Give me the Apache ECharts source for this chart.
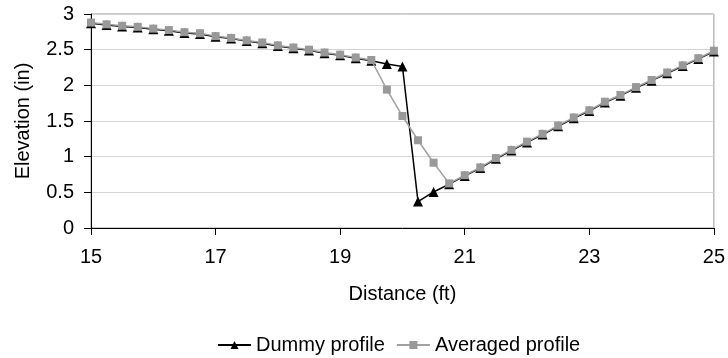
<!DOCTYPE html>
<html>
<head>
<meta charset="utf-8">
<script src="https://cdn.jsdelivr.net/npm/echarts@6/dist/echarts.min.js"></script>
<style>
html,body{margin:0;padding:0;background:#fff;}
#chart{width:728px;height:358px;}
</style>
</head>
<body>
<div id="chart"></div>
<script>
var distance = [15,15.25,15.5,15.75,16,16.25,16.5,16.75,17,17.25,17.5,17.75,18,18.25,18.5,18.75,19,19.25,19.5,19.75,20,20.25,20.5,20.75,21,21.25,21.5,21.75,22,22.25,22.5,22.75,23,23.25,23.5,23.75,24,24.25,24.5,24.75,25];
var dummyProfile = [2.87,2.845,2.825,2.81,2.785,2.765,2.735,2.72,2.68,2.655,2.62,2.59,2.55,2.52,2.49,2.45,2.42,2.38,2.345,2.30,2.265,0.37,0.505,0.615,0.73,0.84,0.97,1.085,1.2,1.31,1.425,1.54,1.64,1.76,1.855,1.965,2.065,2.17,2.27,2.37,2.475];
var averagedProfile = [2.88,2.855,2.835,2.82,2.795,2.775,2.745,2.73,2.69,2.665,2.63,2.6,2.56,2.53,2.5,2.46,2.43,2.39,2.355,1.94,1.57,1.23,0.915,0.625,0.74,0.85,0.98,1.095,1.21,1.32,1.435,1.55,1.65,1.77,1.865,1.975,2.075,2.18,2.28,2.38,2.485];
var seriesNames = ['Dummy profile','Averaged profile'];
var xAxisName = 'Distance (ft)';
var yAxisName = 'Elevation (in)';

function pairs(xs, ys){ return xs.map(function(x,i){ return [x, ys[i]]; }); }

var font = 'Liberation Sans, Arial, sans-serif';
var chart = echarts.init(document.getElementById('chart'), null, {renderer:'canvas'});
chart.setOption({
  animation:false,
  backgroundColor:'#fff',
  textStyle:{fontFamily:font},
  grid:{left:91, right:12, top:14, bottom:130, show:true, borderColor:'#999', borderWidth:1},
  legend:{
    left:212, top:330,
    itemWidth:33, itemHeight:10, itemGap:11,
    textStyle:{fontFamily:font, fontSize:20, color:'#000'},
    data:seriesNames
  },
  xAxis:{
    type:'value', min:15, max:25, interval:2,
    name:xAxisName, nameLocation:'middle', nameGap:56,
    nameTextStyle:{fontFamily:font, fontSize:20, color:'#000'},
    axisLine:{show:true, onZero:false, lineStyle:{color:'#000', width:1}},
    axisTick:{show:true, inside:false, length:7, lineStyle:{color:'#000'}},
    axisLabel:{fontFamily:font, fontSize:20, color:'#000', margin:19},
    splitLine:{show:false}
  },
  yAxis:{
    type:'value', min:0, max:3, interval:0.5,
    name:yAxisName, nameLocation:'middle', nameGap:58, nameRotate:90,
    nameTextStyle:{fontFamily:font, fontSize:20, color:'#000'},
    axisLine:{show:true, lineStyle:{color:'#000', width:1}},
    axisTick:{show:true, inside:false, length:7, lineStyle:{color:'#000'}},
    axisLabel:{fontFamily:font, fontSize:20, color:'#000', margin:17},
    splitLine:{show:true, lineStyle:{color:'#d4d4d4', width:1}}
  },
  series:[
    {
      name:seriesNames[0], type:'line', data:pairs(distance, dummyProfile),
      symbol:'triangle', symbolSize:10,
      lineStyle:{color:'#000', width:1.5},
      itemStyle:{color:'#000'},
      z:2
    },
    {
      name:seriesNames[1], type:'line', data:pairs(distance, averagedProfile),
      symbol:'rect', symbolSize:8,
      lineStyle:{color:'#a0a0a0', width:1.5},
      itemStyle:{color:'#999999'},
      z:3
    }
  ]
});
</script>
</body>
</html>
